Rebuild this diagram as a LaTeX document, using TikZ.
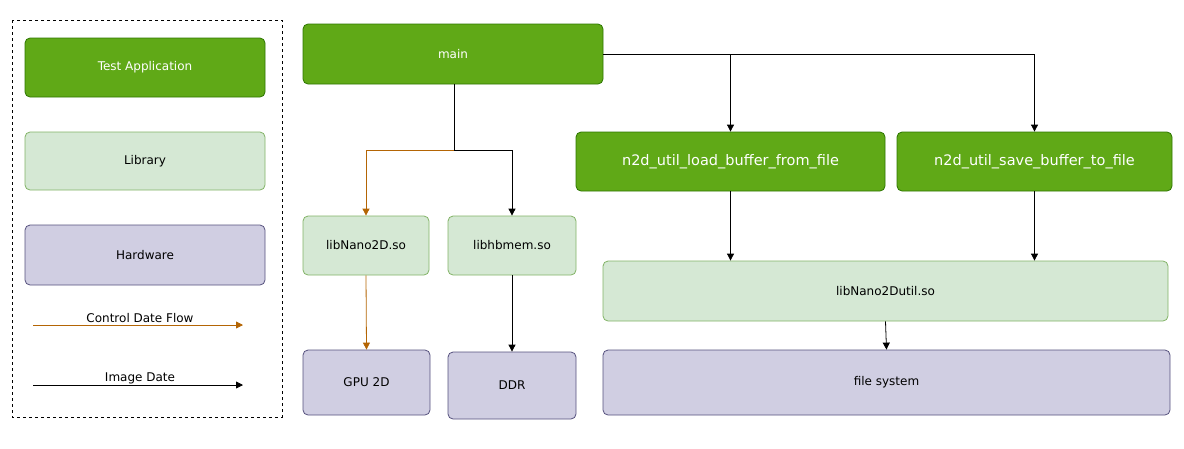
\documentclass[tikz,border=0pt]{standalone}
\usepackage{fontspec}
\setmainfont{DejaVu Sans}
\usetikzlibrary{positioning, arrows.meta}
\definecolor{appfill}{HTML}{60A917}
\definecolor{appline}{HTML}{2D7600}
\definecolor{libfill}{HTML}{D5E8D4}
\definecolor{libline}{HTML}{82B366}
\definecolor{hwfill}{HTML}{D0CEE2}
\definecolor{hwline}{HTML}{56517E}
\definecolor{ctrl}{HTML}{B46504}
\tikzset{
  box/.style={rounded corners=5pt, line width=0.8pt, inner sep=0pt, font=\fontsize{12}{14}\selectfont},
  app/.style={box, fill=appfill, draw=appline, text=white},
  lib/.style={box, fill=libfill, draw=libline},
  hw/.style={box, fill=hwfill, draw=hwline},
  flow/.style={-{Triangle[length=7pt,width=7pt]}, line width=0.8pt},
}
\newcommand{\boxat}[5]{% style, name, x1/y1, x2/y2, text
  \node[#1, minimum width={(#4)-(#3)}] (#2) {#5};}
\begin{document}
\begin{tikzpicture}[x=1pt, y=-1pt]
  \useasboundingbox (0,0) rectangle (1184,448);
  % legend
  \draw[dashed, line width=0.8pt] (12,20) rectangle (282,417);
  \node[app, minimum width=240pt, minimum height=59pt] (legapp) at (145,67.5) {Test Application};
  \node[lib, minimum width=240pt, minimum height=58pt] (leglib) at (145,161) {Library};
  \node[hw, minimum width=240pt, minimum height=60pt] (leghw) at (145,255) {Hardware};
  \coordinate (c1) at (33,325);
  \coordinate (c2) at (243,325);
  \draw[flow, ctrl] (c1) -- (c2);
  \node[font=\fontsize{12}{14}\selectfont] (ctrltxt) at (140,318) {Control Date Flow};
  \coordinate (i1) at (33,385);
  \coordinate (i2) at (243,385);
  \draw[flow] (i1) -- (i2);
  \node[font=\fontsize{12}{14}\selectfont] (imgtxt) at (140,378) {Image Date};
  % applications
  \node[app, minimum width=300pt, minimum height=60pt] (main) at (453,54) {main};
  \node[app, minimum width=309pt, minimum height=59pt, font=\fontsize{14.5}{16}\selectfont] (load) at (730.5,161.5) {n2d\_util\_load\_buffer\_from\_file};
  \node[app, minimum width=275pt, minimum height=59pt, font=\fontsize{14.5}{16}\selectfont] (save) at (1034.5,161.5) {n2d\_util\_save\_buffer\_to\_file};
  % libraries
  \node[lib, minimum width=126pt, minimum height=59pt] (nano) at (366,245.5) {libNano2D.so};
  \node[lib, minimum width=128pt, minimum height=59pt] (hbmem) at (512,245.5) {libhbmem.so};
  \node[lib, minimum width=565pt, minimum height=60pt] (util) at (885.5,291) {libNano2Dutil.so};
  % hardware
  \node[hw, minimum width=127pt, minimum height=65pt] (gpu) at (366.5,382.5) {GPU 2D};
  \node[hw, minimum width=128pt, minimum height=67pt] (ddr) at (512,385.5) {DDR};
  \node[hw, minimum width=567pt, minimum height=65pt] (fs) at (886.5,382.5) {file system};
  % connectors
  \coordinate (split) at (454,150);
  \draw[line width=0.8pt] (main.south -| split) -- (split);
  \draw[flow, ctrl] (split) -| (nano.north);
  \draw[flow] (split) -| (hbmem.north);
  \draw[flow] (main.east) -| (save.north);
  \draw[flow] (main.east -| load.north) -- (load.north);
  \draw[flow] (load.south) -- (load.south |- util.north);
  \draw[flow] (save.south) -- (save.south |- util.north);
  \draw[flow, ctrl] (nano.south) -- (gpu.north);
  \draw[flow] (hbmem.south) -- (ddr.north);
  \draw[flow] (util.south) -- (fs.north);
\end{tikzpicture}
\end{document}
